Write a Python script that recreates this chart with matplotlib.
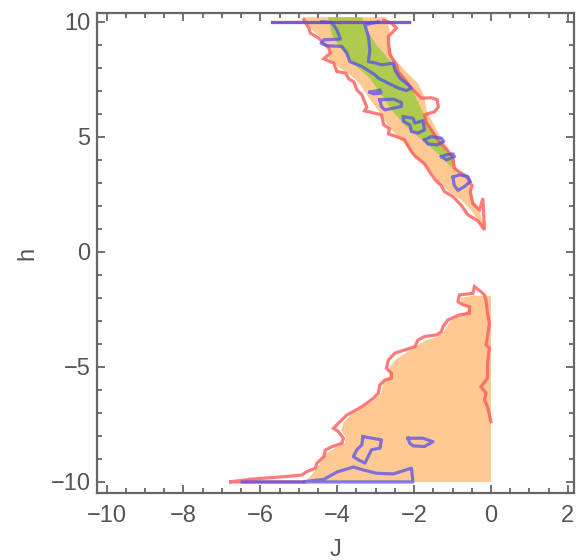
import matplotlib
matplotlib.use("Agg")
import matplotlib.pyplot as plt
from matplotlib.ticker import MultipleLocator

plt.rcParams["font.family"] = ["Liberation Sans", "DejaVu Sans"]

# ---------------- data (J, h) ----------------
# upper orange band
orange_up_J = [-4.92, -4.66, -4.35, -4.19, -4.22, -4.01, -3.67, -3.41, -3.23, -3.10, -2.90, -2.74,
               -2.59, -2.38, -2.20, -2.02, -1.81, -1.55, -1.34, -1.09, -0.78, -0.52, -0.31, -0.18,
               -0.16, -0.23, -0.31, -0.47, -0.52, -0.65, -0.88, -0.96, -1.14, -1.37, -1.55, -1.68,
               -1.73, -1.89, -2.25, -2.54, -2.64, -2.64, -2.72]
orange_up_h = [10.2, 9.65, 9.22, 8.78, 8.43, 8.09, 7.70, 7.30, 6.83, 6.52, 6.09, 5.65,
               5.30, 4.96, 4.61, 4.22, 3.91, 3.48, 3.00, 2.61, 2.26, 1.83, 1.30, 0.96,
               1.04, 1.39, 1.83, 2.26, 2.83, 3.22, 3.57, 4.00, 4.57, 5.17, 5.74, 6.17,
               6.74, 7.30, 7.91, 8.43, 9.00, 9.65, 10.2]

# lower orange region
orange_lo_J = [-4.83, -4.60, -4.45, -4.28, -4.02, -3.80, -3.78, -3.90, -3.85, -3.65, -3.40, -3.00,
               -2.85, -2.80, -2.65, -2.62, -2.50, -2.20, -1.90, -1.70, -1.40, -1.22, -1.05, -0.75,
               -0.55, -0.75, -0.78, -0.45, -0.09, 0.0, 0.0]
orange_lo_h = [-10.0, -9.55, -9.20, -8.75, -8.50, -8.30, -8.05, -7.75, -7.45, -7.10, -6.85, -6.40,
               -6.10, -5.70, -5.45, -5.00, -4.70, -4.38, -4.05, -3.85, -3.70, -3.45, -3.00, -2.75,
               -2.45, -2.30, -2.00, -1.90, -1.91, -1.91, -10.0]

# green band
green_J = [-4.24, -4.14, -3.88, -3.49, -3.16, -2.85, -2.59, -2.20, -1.73, -1.29, -1.03,
           -0.98, -1.16, -1.42, -1.68, -1.86, -2.07, -2.38, -2.64, -2.98, -3.23, -3.36]
green_h = [10.2, 9.43, 8.78, 8.04, 7.57, 6.83, 6.17, 5.43, 4.78, 4.13, 3.65,
           3.87, 4.43, 5.04, 5.74, 6.39, 7.13, 7.83, 8.35, 9.00, 9.65, 10.2]

# red contour, upper
red_up_J = [-4.87, -4.74, -4.70, -4.48, -4.35, -4.22, -4.18, -4.35, -4.22, -4.09, -4.01, -3.78,
            -3.70, -3.57, -3.49, -3.36, -3.31, -3.23, -3.29, -2.85, -2.79, -2.64, -2.67, -2.51,
            -2.25, -2.15, -2.07, -1.98, -1.86, -1.73, -1.60, -1.45, -1.29, -1.21, -0.99, -0.78,
            -0.60, -0.34, -0.17,
            -0.21, -0.30, -0.47, -0.54, -0.49, -0.65, -0.83, -0.96, -0.99, -1.14, -1.37, -1.50,
            -1.68, -1.73, -1.47, -1.37, -1.40, -1.55, -1.81, -2.07, -2.20, -2.41, -2.46, -2.63,
            -2.66, -2.67, -2.46, -2.59, -2.79]
red_up_h = [10.09, 9.73, 9.51, 9.29, 9.07, 8.86, 8.64, 8.39, 8.30, 8.20, 7.84, 7.77,
            7.52, 7.39, 7.04, 6.83, 6.61, 6.30, 6.13, 5.96, 5.52, 5.35, 5.13, 5.04,
            4.87, 4.58, 4.35, 4.17, 4.00, 3.83, 3.49, 3.13, 2.87, 2.62, 2.40, 2.04,
            1.61, 1.35, 0.96,
            2.33, 1.83, 2.09, 2.61, 2.87, 3.30, 3.48, 3.65, 4.09, 4.43, 4.83, 5.17,
            5.61, 5.96, 6.09, 6.30, 6.61, 6.70, 6.68, 7.11, 7.40, 7.83, 8.13, 8.57,
            9.00, 9.36, 9.73, 9.94, 10.06]

# red contour, lower
red_lo_J = [0.0, -0.09, -0.17, -0.13, -0.26, -0.09, -0.09, -0.04, -0.13, -0.09, -0.04, -0.09,
            -0.13, -0.17, -0.26, -0.43, -0.47, -0.82, -0.86, -0.73, -0.56, -0.56, -0.82, -1.12,
            -1.25, -1.29, -1.42, -1.73, -1.90, -1.98, -2.24, -2.50, -2.67, -2.72, -2.59, -2.59,
            -2.76, -2.89, -2.93, -3.06, -3.36, -3.58, -3.75, -3.97, -4.10, -3.97, -3.84, -3.88,
            -4.14, -4.31, -4.35, -4.53, -4.57, -4.79, -4.92, -5.39, -6.25, -6.81, -4.86]
red_lo_h = [-7.38, -6.73, -6.43, -6.14, -5.86, -5.48, -4.84, -4.19, -4.04, -3.68, -3.10, -2.67,
            -2.09, -1.87, -1.73, -1.51, -1.80, -1.87, -2.16, -2.30, -2.38, -2.67, -2.74, -2.96,
            -3.25, -3.47, -3.61, -3.68, -3.83, -4.12, -4.26, -4.40, -4.70, -5.06, -5.27, -5.49,
            -5.57, -5.78, -6.14, -6.36, -6.73, -6.94, -7.09, -7.45, -7.67, -7.81, -8.10, -8.32,
            -8.47, -8.61, -8.90, -9.19, -9.40, -9.55, -9.70, -9.77, -9.88, -10.0, -10.0]

# top edge line (red + blue overlapping)
top_J = [-5.69, -2.12]
top_h = [10.0, 10.0]

# blue contours
blue_loop_J = [-4.40, -4.14, -4.01, -3.92, -4.35, -4.42, -4.27, -3.88, -3.75, -3.67, -3.36, -3.02,
               -2.93, -2.67, -2.41, -2.20, -2.07, -2.15, -2.37, -2.50, -2.54, -2.85, -2.98, -3.19,
               -3.15, -3.19, -3.28, -2.93]
blue_loop_h = [10.0, 9.97, 9.65, 9.25, 9.22, 9.07, 8.96, 8.93, 8.64, 8.27, 8.06, 7.70,
               7.55, 7.33, 7.12, 7.01, 7.12, 7.26, 7.55, 7.91, 8.20, 8.13, 8.20, 8.27,
               8.78, 9.36, 9.87, 10.0]
isl1_J = [-3.15, -2.89, -2.86, -3.06, -3.15]
isl1_h = [6.94, 7.04, 6.90, 6.87, 6.94]
isl2_J = [-2.89, -2.54, -2.33, -2.33, -2.76, -2.85, -2.89]
isl2_h = [6.61, 6.64, 6.49, 6.32, 6.17, 6.32, 6.61]
isl3_J = [-2.28, -2.03, -1.98, -1.77, -1.73, -1.90, -2.07, -2.11, -2.28, -2.28]
isl3_h = [5.88, 5.81, 5.60, 5.70, 5.30, 5.16, 5.23, 5.52, 5.67, 5.88]
isl4_J = [-1.73, -1.55, -1.29, -1.23, -1.40, -1.64, -1.73]
isl4_h = [4.87, 5.01, 4.94, 4.80, 4.65, 4.69, 4.87]
isl5_J = [-1.29, -1.16, -0.99, -0.95, -1.16, -1.29]
isl5_h = [4.14, 4.22, 4.26, 4.14, 4.00, 4.14]
isl6_J = [-0.99, -0.82, -0.60, -0.54, -0.69, -0.86, -0.96, -0.99]
isl6_h = [3.25, 3.35, 3.27, 3.06, 2.84, 2.67, 2.91, 3.25]
isl7_J = [-3.33, -2.85, -2.89, -3.11, -3.28, -3.45, -3.58, -3.49, -3.36, -3.33]
isl7_h = [-8.03, -8.17, -8.53, -8.60, -9.18, -9.04, -8.90, -8.60, -8.39, -8.03]
isl8_J = [-2.16, -1.77, -1.51, -1.73, -2.03, -2.11, -2.16]
isl8_h = [-8.10, -8.10, -8.25, -8.46, -8.43, -8.32, -8.10]
blue_bot_J = [-6.47, -2.03, -2.07, -2.54, -2.98, -3.32, -3.58, -4.01, -4.35, -4.84]
blue_bot_h = [-10.0, -10.0, -9.40, -9.65, -9.62, -9.48, -9.35, -9.57, -9.89, -9.98]

ORANGE = "#FFC994"
GREEN = "#AFCB4E"
RED = "#FF5A5A"
BLUE = "#4B4BF0"
GRAY = "#666666"
TXT = "#555555"

fig = plt.figure(figsize=(5.77, 5.6), dpi=100)
ax = fig.add_axes([97.4 / 577, 67 / 560, (574 - 97.4) / 577, (493 - 13.3) / 560])

ax.fill(orange_up_J, orange_up_h, color=ORANGE, lw=0, zorder=1)
ax.fill(orange_lo_J, orange_lo_h, color=ORANGE, lw=0, zorder=1)
ax.fill(green_J, green_h, color=GREEN, lw=0, zorder=2)

lkw = dict(lw=2.3, solid_joinstyle="miter", zorder=3)
ax.plot(red_up_J, red_up_h, color=RED, alpha=0.8, **lkw)
ax.plot(red_lo_J, red_lo_h, color=RED, alpha=0.8, **lkw)
ax.plot(top_J, top_h, color=RED, alpha=0.8, **lkw)

bkw = dict(color=BLUE, alpha=0.7, lw=2.3, zorder=4)
for xs, ys in [(top_J, top_h), (blue_loop_J, blue_loop_h), (isl1_J, isl1_h), (isl2_J, isl2_h),
               (isl3_J, isl3_h), (isl4_J, isl4_h), (isl5_J, isl5_h), (isl6_J, isl6_h),
               (isl7_J, isl7_h), (isl8_J, isl8_h), (blue_bot_J, blue_bot_h)]:
    ax.plot(xs, ys, **bkw)

ax.set_xlim(-10.24, 2.16)
ax.set_ylim(-10.48, 10.37)

ax.xaxis.set_major_locator(MultipleLocator(2))
ax.xaxis.set_minor_locator(MultipleLocator(0.5))
ax.yaxis.set_major_locator(MultipleLocator(5))
ax.yaxis.set_minor_locator(MultipleLocator(1))

ax.tick_params(which="both", direction="in", top=True, right=True, color=GRAY, width=1.3,
               labelcolor=TXT, labelsize=17)
ax.tick_params(which="major", length=6)
ax.tick_params(which="minor", length=3.5)
ax.tick_params(axis="x", pad=9)
ax.tick_params(axis="y", pad=5)
for s in ax.spines.values():
    s.set_color(GRAY)
    s.set_linewidth(1.6)

ax.set_xlabel("J", fontsize=17, color=TXT, labelpad=8.5)
ax.set_ylabel("h", fontsize=17, color=TXT, labelpad=9, rotation=90)

fig.savefig("out.png", dpi=100)
